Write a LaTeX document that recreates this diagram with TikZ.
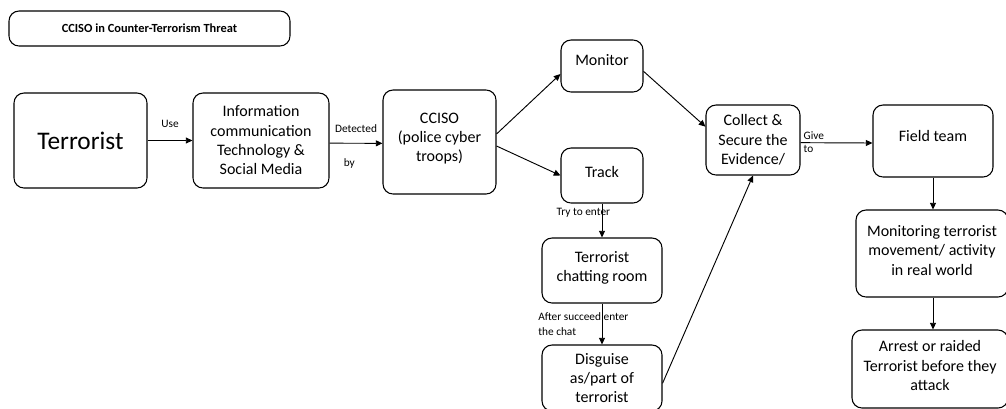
\documentclass[tikz,border=0pt]{standalone}
\usepackage{fontspec}
\setmainfont{Carlito}
\usetikzlibrary{arrows, arrows.meta}
\usetikzlibrary{calc}

\begin{document}
\begin{tikzpicture}[x=0.75pt, y=-0.75pt,
    box/.style={draw, rounded corners=7.5pt, line width=0.8pt, align=center, inner sep=2pt, font=\fontsize{12}{14.5}\selectfont},
    lbl/.style={font=\fontsize{8.5}{11}\selectfont, inner sep=1pt},
    arr/.style={-{Triangle[length=5pt, width=4.5pt]}, line width=0.7pt}]
      \useasboundingbox (0,0) rectangle (1006,408);
      \clip (0,0) rectangle (1006,408);

      \node[box, minimum width=210.75pt, minimum height=26.25pt, font=\fontsize{9.3}{11}\selectfont\bfseries] (title) at (149.5,28.5) {CCISO in Counter-Terrorism Threat};

      \node[box, minimum width=99.75pt, minimum height=71.25pt, font=\fontsize{19}{23}\selectfont] (terr) at (80.5,140.5) {Terrorist};
      \node[box, minimum width=102pt, minimum height=71.25pt] (ict) at (261,140.5) {Information\\communication\\Technology \&\\Social Media};
      \node[box, minimum width=84.75pt, minimum height=78pt, text depth=7pt] (cciso) at (439.5,142) {CCISO\\(police cyber\\troops)};
      \node[box, minimum width=61.5pt, minimum height=39pt, text depth=9pt] (mon) at (602,66) {Monitor};
      \node[box, minimum width=61.5pt, minimum height=41.25pt, text depth=6pt] (track) at (602,175.5) {Track};
      \node[box, minimum width=90pt, minimum height=48.75pt, text depth=6pt] (chat) at (602,270.5) {Terrorist\\chatting room};
      \node[box, minimum width=90pt, minimum height=49.5pt] (disg) at (602,378) {Disguise\\as/part of\\terrorist};
      \node[box, minimum width=70.5pt, minimum height=52.5pt] (coll) at (753,140) {Collect \&\\Secure the\\Evidence/};
      \node[box, minimum width=90pt, minimum height=54pt, text depth=8pt] (field) at (933,141) {Field team};
      \node[box, minimum width=114pt, minimum height=65.25pt, text depth=5pt] (real) at (932,253.5) {Monitoring terrorist\\movement/ activity\\in real world};
      \node[box, minimum width=117pt, minimum height=58.5pt, text depth=5pt] (arrest) at (930,369) {Arrest or raided\\Terrorist before they\\attack};

      \draw[arr] (terr) -- node[lbl, above=8pt] {Use} (ict);
      \draw[arr] ([yshift=-2pt]ict.east) -- node[lbl, above=7pt] {Detected} node[lbl, below=10pt, xshift=-5pt] {by} ([yshift=-1pt]cciso.west);
      \draw[arr] ([yshift=6pt]cciso.east) -- ([yshift=-6pt]mon.west);
      \draw[arr] ([yshift=-3pt]cciso.east) -- (track.west);
      \draw[arr] ([yshift=-2pt]coll.east) -- node[lbl, pos=0, above right=1pt] {Give} node[lbl, pos=0, below right=1pt] {to} ([yshift=-1.5pt]field.west);
      \draw[arr] ([yshift=-4pt]mon.east) -- ([yshift=10pt]coll.west);
      \draw[arr] ([yshift=-4pt]disg.east) -- (coll.south);
      \draw[arr] (track) -- node[lbl, pos=0.26, xshift=-14pt] {Try to enter} (chat);
      \draw[arr] (chat) -- node[lbl, pos=0.5, xshift=-14pt, align=left] {After succeed enter\\the chat} (disg);
      \draw[arr] (field.south) -- (field.south |- real.north);
      \draw[arr] (real.south -| field.south) -- (field.south |- arrest.north);
\end{tikzpicture}
\end{document}
